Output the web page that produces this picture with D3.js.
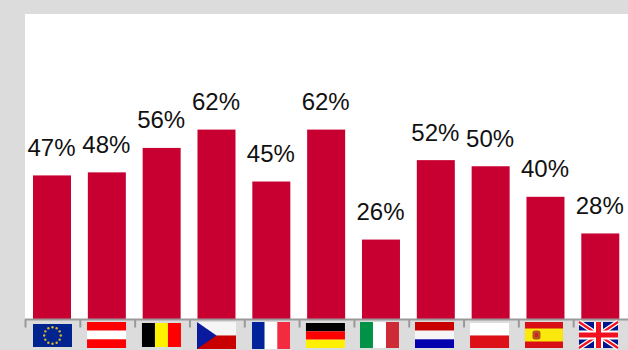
<!DOCTYPE html>
<html>
<head>
<meta charset="utf-8">
<script src="https://cdn.jsdelivr.net/npm/d3@7/dist/d3.min.js"></script>
<style>
html,body{margin:0;padding:0;background:#dcdcdc;overflow:hidden}
svg{display:block}
</style>
</head>
<body>
<svg id="chart" width="628" height="350"></svg>
<script>
// Country codes, in display order, and their percentages
const countries = ["EU","AT","BE","CZ","FR","DE","IT","NL","PL","ES","UK"];
const shares = [47,48,56,62,45,62,26,52,50,40,28];

// Flag geometry per country: x offset from band centre, top and bottom edge, width
const flagDx = [-19,-19.8,-19.7,-19.5,-19.3,-20.2,-21,-20.8,-20.6,-20.5,-21.3];
const flagTop = [324,322,323,322,322,323,322,322,323,322,322];
const flagBottom = [347,348,347,349,349,348,348,348,348,348,348];
const flagWidth = [39,39,39,39,38,39,39,39,39,38,39];

const width = 628, height = 350;
const panel = {left:25, right:628, top:14, baseline:319};
const crimson = "#c80032";

const svg = d3.select("#chart");

svg.append("rect").attr("x",panel.left).attr("y",panel.top)
  .attr("width",panel.right-panel.left).attr("height",panel.baseline-panel.top)
  .attr("fill","#fff");

const x = d3.scaleBand().domain(countries).range([panel.left,panel.right-0.7]).paddingInner(0.307).paddingOuter(0.146);
const y = d3.scaleLinear().domain([0,100]).range([panel.baseline,panel.baseline-305.5]);

// Bars
svg.append("g").selectAll("rect").data(countries).join("rect")
  .attr("x",d=>x(d)).attr("width",x.bandwidth())
  .attr("y",(d,i)=>y(shares[i]))
  .attr("height",(d,i)=>y(0)-y(shares[i]))
  .attr("fill",crimson);

// Value labels
svg.append("g").selectAll("text").data(countries).join("text")
  .attr("x",d=>x(d)+x.bandwidth()/2-0.5)
  .attr("y",(d,i)=>y(shares[i])-19.6)
  .attr("text-anchor","middle")
  .attr("font-family","'Liberation Sans',Arial,sans-serif")
  .attr("font-size",24)
  .attr("fill","#111")
  .text((d,i)=>shares[i]+"%");

// Axis with ticks on the band boundaries
const tickScale = d3.scaleLinear().domain([0,countries.length]).range([panel.left,panel.right]);
const axis = d3.axisBottom(tickScale).tickValues(d3.range(0,countries.length)).tickSize(8).tickFormat("");
const axisG = svg.append("g").attr("transform",`translate(0,${panel.baseline+0.5})`).call(axis);
axisG.selectAll("path,line").attr("stroke","#999").attr("stroke-width",2);
axisG.select("path").attr("d",`M${panel.left},0H${panel.right}`);

// Flags
const flags = {
  EU(g,w,h){
    g.append("rect").attr("width",w).attr("height",h).attr("fill","#00248f");
    d3.range(12).forEach(k=>{
      const a=k*Math.PI/6;
      g.append("circle").attr("cx",w/2+8.3*Math.sin(a)).attr("cy",h/2-8.3*Math.cos(a)).attr("r",1.2).attr("fill","#dcb42a");
    });
  },
  AT(g,w,h){stripesH(g,w,h,["#fe0000","#fff","#fe0000"]);},
  BE(g,w,h){stripesV(g,w,h,["#000","#fff200","#fe0000"]);},
  CZ(g,w,h){
    stripesH(g,w,h,["#f5f5f5","#c80000"]);
    g.append("path").attr("d",`M0,0L${w*0.5},${h/2}L0,${h}Z`).attr("fill","#0a1a9c");
  },
  FR(g,w,h){stripesV(g,w,h,["#00239c","#fff","#f42a41"]);},
  DE(g,w,h){stripesH(g,w,h,["#000","#fe0000","#ffef00"]);},
  IT(g,w,h){stripesV(g,w,h,["#009246","#fff","#ce2b37"]);},
  NL(g,w,h){stripesH(g,w,h,["#c80000","#f5f5f5","#0000ae"]);},
  PL(g,w,h){stripesH(g,w,h,["#fff","#dd1018"]);},
  ES(g,w,h){
    g.append("rect").attr("width",w).attr("height",h).attr("fill","#d80f14");
    g.append("rect").attr("y",h/4).attr("width",w).attr("height",h/2).attr("fill","#fbe80c");
    g.append("rect").attr("x",7.5).attr("y",h/2-4.5).attr("width",8).attr("height",9).attr("rx",2.5).attr("fill","#b5561c");
    g.append("rect").attr("x",10).attr("y",h/2-2).attr("width",3).attr("height",4).attr("fill","#d0202a");
  },
  UK(g,w,h){
    g.append("rect").attr("width",w).attr("height",h).attr("fill","#00148c");
    const diag=`M0,0L${w},${h}M${w},0L0,${h}`;
    g.append("path").attr("d",diag).attr("stroke","#fff").attr("stroke-width",5);
    g.append("path").attr("d",diag).attr("stroke","#f01020").attr("stroke-width",2.2);
    g.append("path").attr("d",`M${w/2},0V${h}M0,${h/2}H${w}`).attr("stroke","#fff").attr("stroke-width",9);
    g.append("path").attr("d",`M${w/2},0V${h}M0,${h/2}H${w}`).attr("stroke","#f01020").attr("stroke-width",5);
  }
};
function stripesH(g,w,h,cols){
  cols.forEach((c,i)=>g.append("rect").attr("y",h*i/cols.length).attr("width",w).attr("height",h/cols.length).attr("fill",c));
}
function stripesV(g,w,h,cols){
  cols.forEach((c,i)=>g.append("rect").attr("x",w*i/cols.length).attr("width",w/cols.length).attr("height",h).attr("fill",c));
}

countries.forEach((c,i)=>{
  const cx = x(c)+x.bandwidth()/2;
  const top = flagTop[i], h = flagBottom[i]-top;
  const g = svg.append("g").attr("transform",`translate(${cx+flagDx[i]},${top})`);
  flags[c](g,flagWidth[i],h);
});
</script>
</body>
</html>
